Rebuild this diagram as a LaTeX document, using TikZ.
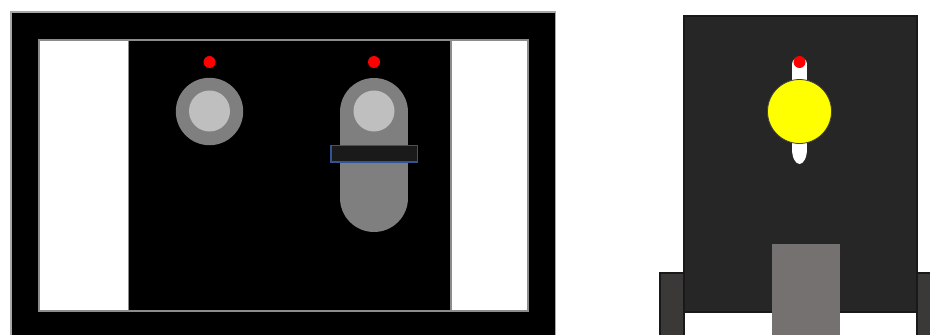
\documentclass[tikz,border=0pt]{standalone}
\definecolor{edgegray}{HTML}{8C8C8C}
\definecolor{ringgray}{HTML}{7F7F7F}
\definecolor{coregray}{HTML}{BFBFBF}
\definecolor{barfill}{HTML}{1A1A1A}
\definecolor{barline}{HTML}{2F5597}
\definecolor{panel}{HTML}{262626}
\definecolor{stem}{HTML}{767171}
\definecolor{side}{HTML}{3B3838}
\definecolor{halo}{HTML}{A8A8A8}
\definecolor{sun}{HTML}{FFFF00}
\definecolor{dotred}{HTML}{FF0000}
\tikzset{
  ring/.style={fill=ringgray,draw=none},
  core/.style={fill=coregray,draw=none},
  dot/.style={fill=dotred,draw=none},
  panelhalo/.style={draw=halo,line width=2pt},
  panelline/.style={draw=black!90,line width=1.2pt},
}
\begin{document}
\begin{tikzpicture}[x=1pt,y=-1pt]
\useasboundingbox (0,0) rectangle (930,335);
\begin{scope}
\clip (0,0) rectangle (930,335);
% left figure
\fill[halo] (10,11) rectangle (556,340);
\fill[black] (11.5,12.5) rectangle (554.5,340);
\path[fill=white,draw=edgegray,line width=2pt] (38.5,39.8) rectangle (527.5,311.2);
\fill[black] (128.5,41) rectangle (451,310.3);
\draw[edgegray,line width=1.2pt] (128.5,41) -- (128.5,310.3) (451,41) -- (451,310.3);
% left ring
\fill[ring] (209.5,111.5) circle[radius=33.7];
\fill[core] (209.5,111) circle[radius=20.5];
\fill[dot] (209.5,62) circle[radius=6];
% right capsule
\fill[ring] (374,112) circle[radius=34];
\fill[ring] (374,198) circle[radius=34];
\fill[ring] (340,112) rectangle (408,198);
\fill[core] (374,111) circle[radius=20.5];
\fill[dot] (374,62) circle[radius=6];
\path[fill=barfill,draw=barline,line width=1.4pt] (331,145.5) rectangle (417.5,162);
% right figure
\path[panelhalo] (684,16) rectangle (917,312);
\path[panelline,fill=panel] (684,16) rectangle (917,312);
\path[panelline,fill=side] (660,273) rectangle (684,340);
\path[panelline,fill=side] (917,273) rectangle (935,340);
\fill[white] (799.5,64.5) circle[radius=7.5];
\fill[white] (792,64.5) rectangle (807,149);
\fill[white] (799.5,149) ellipse[x radius=7.5,y radius=15];
\path[fill=sun,draw=black!75,line width=0.8pt] (799.5,111.5) circle[radius=32];
\fill[dot] (799.5,62) circle[radius=6];
\fill[stem] (771.5,244) rectangle (839.5,340);
\end{scope}
\end{tikzpicture}
\end{document}
